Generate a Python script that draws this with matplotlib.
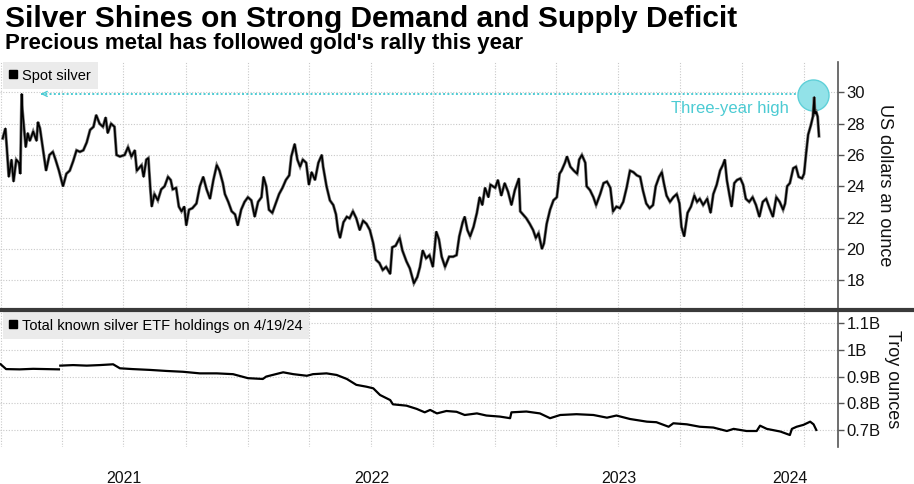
import numpy as np
import matplotlib
matplotlib.use("Agg")
import matplotlib.pyplot as plt
import matplotlib.dates as mdates
from matplotlib.lines import Line2D
from matplotlib.ticker import FixedLocator, FixedFormatter, NullFormatter, FuncFormatter

plt.rcParams['font.family'] = ['Liberation Sans', 'DejaVu Sans']

# Spot silver, USD/oz (days after 1 Jan 2021)
silver_day = [
    3, 7, 9, 12, 16, 19, 23, 27, 29, 31,
    32, 37, 40, 43, 48, 53, 55, 58, 62, 67,
    72, 77, 81, 86, 92, 97, 102, 107, 112, 117,
    122, 127, 132, 137, 141, 146, 151, 155, 158, 163,
    168, 171, 176, 183, 188, 193, 198, 201, 208, 211,
    215, 218, 221, 223, 227, 232, 237, 242, 247, 251,
    254, 259, 263, 267, 271, 274, 278, 283, 289, 294,
    299, 304, 309, 314, 319, 323, 328, 331, 336, 341,
    346, 350, 355, 360, 365, 370, 375, 380, 385, 388,
    392, 396, 401, 406, 411, 416, 421, 426, 429, 434,
    438, 442, 446, 451, 455, 459, 464, 469, 474, 476,
    481, 486, 491, 495, 498, 501, 506, 511, 515, 520,
    525, 530, 535, 540, 545, 550, 554, 559, 564, 569,
    575, 578, 583, 589, 593, 599, 604, 610, 615, 619,
    623, 628, 633, 638, 643, 647, 651, 656, 662, 668,
    673, 677, 682, 685, 689, 693, 698, 703, 707, 711,
    715, 720, 723, 730, 734, 739, 744, 749, 754, 759,
    765, 767, 771, 776, 781, 786, 790, 794, 799, 802,
    806, 811, 816, 821, 825, 828, 833, 836, 841, 846,
    851, 854, 858, 863, 865, 870, 875, 879, 885, 890,
    895, 900, 904, 909, 914, 919, 924, 929, 934, 939,
    944, 948, 953, 958, 963, 967, 972, 976, 979, 983,
    988, 993, 998, 1002, 1005, 1009, 1014, 1019, 1024, 1028,
    1032, 1037, 1043, 1048, 1052, 1057, 1062, 1066, 1069, 1072,
    1076, 1079, 1083, 1087, 1092, 1096, 1100, 1105, 1110, 1115,
    1120, 1125, 1130, 1135, 1140, 1145, 1150, 1155, 1158, 1161,
    1165, 1170, 1174, 1178, 1183, 1186, 1189, 1192, 1196, 1199,
    1201, 1202, 1204, 1206, 1208,
]
silver_usd = [
    27.06, 27.7, 26.5, 24.6, 25.7, 24.3, 25.7, 25.5, 24.8, 29.9,
    28.9, 26.5, 27.4, 26.9, 27.5, 26.9, 28.1, 27.7, 26.5, 25.0,
    26.0, 26.2, 25.7, 25.0, 24.0, 24.8, 25.0, 25.6, 26.3, 26.2,
    26.3, 26.8, 27.6, 27.8, 28.55, 28.0, 27.8, 28.4, 27.4, 28.0,
    27.8, 26.0, 25.9, 26.0, 26.5, 25.9, 26.3, 25.0, 25.35, 24.6,
    25.7, 25.8, 23.8, 22.7, 23.5, 23.1, 23.8, 24.0, 24.6, 24.4,
    23.8, 23.9, 22.7, 22.4, 22.7, 21.5, 22.5, 22.6, 22.9, 24.0,
    24.6, 23.8, 23.2, 24.4, 25.35, 25.0, 24.2, 23.5, 23.0, 22.4,
    22.2, 21.5, 22.5, 23.0, 23.3, 23.1, 22.05, 23.0, 23.3, 24.6,
    24.0, 22.5, 22.3, 22.9, 23.5, 23.9, 24.4, 24.7, 25.9, 26.7,
    25.7, 25.25, 25.7, 25.5, 24.1, 24.9, 24.4, 25.5, 26.0, 25.25,
    24.0, 23.1, 22.8, 22.2, 21.2, 20.7, 21.7, 22.05, 21.95, 22.4,
    21.95, 21.2, 21.8, 21.6, 21.2, 20.35, 19.3, 19.1, 18.65, 18.85,
    18.4, 20.1, 20.2, 20.7, 19.9, 19.2, 18.75, 17.8, 18.2, 18.85,
    19.9, 19.4, 19.6, 18.85, 21.1, 20.6, 19.5, 18.85, 19.5, 19.5,
    19.6, 20.8, 21.7, 22.05, 21.2, 20.8, 21.4, 22.3, 23.3, 22.8,
    23.9, 23.3, 24.1, 23.9, 24.4, 23.4, 24.2, 23.65, 22.8, 23.75,
    24.5, 22.4, 22.2, 21.95, 21.6, 21.2, 20.7, 21.0, 20.0, 20.35,
    21.6, 22.5, 23.1, 23.3, 24.8, 25.0, 25.5, 25.9, 25.25, 25.0,
    24.8, 25.7, 26.0, 25.5, 24.0, 23.75, 23.3, 22.8, 23.5, 24.2,
    24.3, 23.9, 22.4, 22.7, 22.6, 23.0, 23.9, 25.0, 24.9, 24.7,
    24.6, 23.75, 22.9, 22.6, 22.8, 24.0, 24.6, 24.9, 24.2, 23.4,
    23.0, 23.3, 23.5, 22.9, 21.4, 20.8, 22.3, 22.7, 23.4, 23.0,
    23.2, 22.8, 23.2, 22.3, 23.5, 24.1, 25.0, 25.35, 25.7, 24.4,
    23.4, 22.7, 24.2, 24.4, 24.5, 24.1, 23.2, 23.0, 23.3, 22.8,
    22.05, 23.0, 23.2, 22.6, 22.05, 23.3, 23.0, 22.5, 22.9, 24.0,
    24.2, 25.15, 25.25, 24.6, 24.5, 24.8, 26.1, 27.3, 27.9, 28.45,
    29.7, 28.65, 28.75, 28.45, 27.2,
]

# Total known silver ETF holdings, billion troy ounces
etf_day = [
    0, 8, 28, 48, 67, 86, 87, 88, 107, 127,
    146, 166, 176, 195, 220, 245, 269, 294, 319, 343,
    365, 387, 392, 417, 432, 452, 461, 481, 496, 511,
    525, 540, 550, 560, 575, 579, 599, 614, 626, 634,
    644, 658, 673, 685, 703, 717, 737, 752, 754, 776,
    796, 811, 826, 850, 875, 895, 909, 929, 954, 968,
    986, 993, 1013, 1032, 1052, 1072, 1082, 1101, 1116, 1121,
    1131, 1151, 1165, 1168, 1175, 1185, 1195, 1200, 1204,
]
etf_bn = [
    0.946, 0.928, 0.927, 0.929, 0.928, 0.927, np.nan, 0.941, 0.943, 0.941,
    0.943, 0.946, 0.931, 0.928, 0.925, 0.921, 0.918, 0.912, 0.912, 0.909,
    0.894, 0.891, 0.900, 0.916, 0.909, 0.903, 0.909, 0.912, 0.906, 0.891,
    0.869, 0.862, 0.856, 0.831, 0.812, 0.796, 0.791, 0.779, 0.766, 0.775,
    0.762, 0.771, 0.768, 0.756, 0.762, 0.754, 0.750, 0.744, 0.766, 0.769,
    0.762, 0.744, 0.756, 0.759, 0.756, 0.746, 0.754, 0.741, 0.731, 0.729,
    0.712, 0.725, 0.721, 0.712, 0.709, 0.696, 0.704, 0.696, 0.696, 0.716,
    0.704, 0.694, 0.681, 0.704, 0.712, 0.719, 0.731, 0.721, 0.700,
]

price_ticks = [18, 20, 22, 24, 26, 28, 30]
etf_ticks = [0.7, 0.8, 0.9, 1.0, 1.1]
years = ['2021', '2022', '2023', '2024']

start = np.datetime64('2021-01-01')


def to_date(days):
    return start + np.asarray(days).astype('timedelta64[D]')


cyan = '#4ccbd3'
grid_kw = dict(color='#c9c9c9', linestyle=(0, (1, 1.5)), linewidth=0.8)

fig = plt.figure(figsize=(9.14, 4.84), dpi=100)
ax1 = fig.add_axes([0, 0.3636, 0.9168, 0.5083])
ax2 = fig.add_axes([0, 0.0764, 0.9168, 0.279])

x_lo = start - np.timedelta64(1, 'D')
x_hi = start + np.timedelta64(1236, 'D')

for ax in (ax1, ax2):
    ax.set_xlim(x_lo, x_hi)
    for s in ('top', 'left', 'bottom'):
        ax.spines[s].set_visible(False)
    ax.spines['right'].set_color('#555555')
    ax.spines['right'].set_linewidth(1.2)
    ax.yaxis.tick_right()
    ax.tick_params(axis='y', direction='out', length=4, width=1, color='#555555',
                   labelsize=12, pad=2, labelcolor='#111111')
    ax.xaxis.set_major_locator(mdates.MonthLocator(bymonth=(1, 4, 7, 10)))
    ax.xaxis.set_major_formatter(NullFormatter())
    ax.tick_params(axis='x', which='both', length=0)
    ax.grid(True, **grid_kw)
    ax.set_axisbelow(True)

# top panel: spot silver
ax1.set_ylim(16.22, 31.94)
ax1.set_yticks(price_ticks)
ax1.plot(to_date(silver_day), silver_usd, color='#777777', linewidth=2.2, zorder=3,
         solid_joinstyle='miter')
ax1.plot(to_date(silver_day), silver_usd, color='black', linewidth=1.2, zorder=4)

high_level = max(silver_usd)
ax1.plot(to_date([60, 1180]), [high_level, high_level], color=cyan,
         linestyle=(0, (1, 1.2)), linewidth=1.4, zorder=2)
ax1.annotate('', xy=(to_date(55), high_level), xytext=(to_date(66), high_level),
             arrowprops=dict(arrowstyle='->', color=cyan, lw=1.0, mutation_scale=9))
ax1.scatter(to_date(1199), 29.83, s=500, color='#92e2e8', edgecolors='#5fd0d8',
            linewidths=1.0, zorder=2)
ax1.text(to_date(1163), 29.0, 'Three-year high', color=cyan, fontsize=12,
         ha='right', va='center')

leg1 = ax1.legend([Line2D([], [], marker='s', color='black', linestyle='none', markersize=6)],
                  ['Spot silver'], loc='upper left', bbox_to_anchor=(0.003, 1.0),
                  borderaxespad=0, fontsize=10.5, handlelength=0.6, handletextpad=0.3,
                  borderpad=0.45, fancybox=False, framealpha=1)
leg1.get_frame().set_facecolor('#ebebeb')
leg1.get_frame().set_edgecolor('none')

# bottom panel: ETF holdings
ax2.set_ylim(0.636, 1.142)
ax2.set_yticks(etf_ticks)
ax2.yaxis.set_major_formatter(FuncFormatter(lambda v, p: f'{v:g}B'))
ax2.plot(to_date(etf_day), etf_bn, color='black', linewidth=1.6, zorder=3)

leg2 = ax2.legend([Line2D([], [], marker='s', color='black', linestyle='none', markersize=6)],
                  ['Total known silver ETF holdings on 4/19/24'], loc='upper left',
                  bbox_to_anchor=(0.003, 1.0), borderaxespad=0, fontsize=10.5,
                  handlelength=0.6, handletextpad=0.3, borderpad=0.45,
                  fancybox=False, framealpha=1)
leg2.get_frame().set_facecolor('#ebebeb')
leg2.get_frame().set_edgecolor('none')

# year labels centred on the visible part of each year
mids = []
for y in years:
    a = mdates.date2num(np.datetime64(f'{y}-01-01'))
    b = min(mdates.date2num(np.datetime64(f'{int(y) + 1}-01-01')), mdates.date2num(x_hi))
    mids.append((a + b) / 2)
ax2.xaxis.set_minor_locator(FixedLocator(mids))
ax2.xaxis.set_minor_formatter(FixedFormatter(years))
ax2.tick_params(axis='x', which='minor', labelsize=11.5, pad=17, labelcolor='#111111')
ax1.xaxis.set_minor_formatter(NullFormatter())

# separator between panels
fig.add_artist(Line2D([0, 1], [0.3595, 0.3595], transform=fig.transFigure,
                      color='#3a3a3a', linewidth=3))

fig.text(885 / 914, 1 - 185 / 484, 'US dollars an ounce', rotation=270,
         ha='center', va='center', fontsize=13, color='#111111')
fig.text(892 / 914, 1 - 379 / 484, 'Troy ounces', rotation=270,
         ha='center', va='center', fontsize=13, color='#111111')

fig.text(5 / 914, 1 - 27 / 484, 'Silver Shines on Strong Demand and Supply Deficit',
         fontsize=21.5, fontweight='bold', va='baseline', ha='left')
fig.text(5 / 914, 1 - 49 / 484, "Precious metal has followed gold's rally this year",
         fontsize=16, fontweight='bold', va='baseline', ha='left')

fig.savefig('out.png', dpi=100)
